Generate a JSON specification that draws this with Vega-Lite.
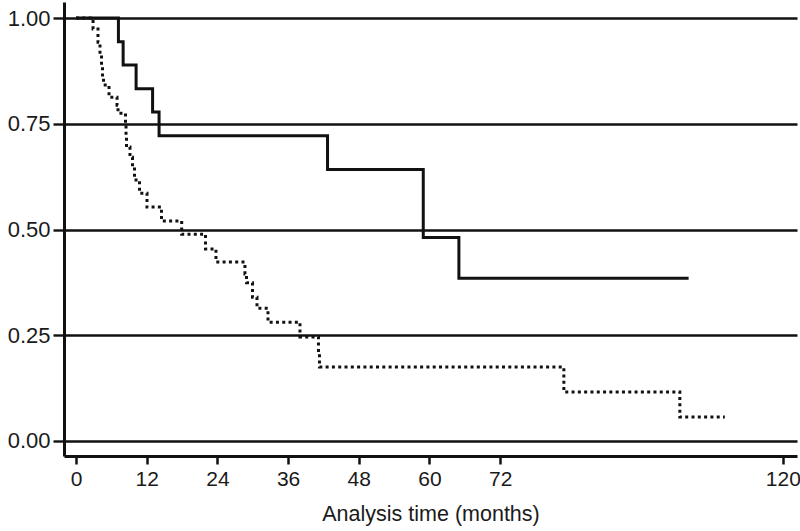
{
  "$schema": "https://vega.github.io/schema/vega-lite/v6.json",
  "width": 733,
  "height": 454,
  "autosize": {"type": "none"},
  "padding": {"left": 64, "top": 2, "right": 3, "bottom": 75},
  "background": "white",
  "view": {"stroke": null},
  "config": {
    "font": "Liberation Sans",
    "axis": {"labelFont": "Liberation Sans", "titleFont": "Liberation Sans", "labelColor": "#1a1a1a", "titleColor": "#1a1a1a"}
  },
  "data": {
    "values": [
      {"group": "solid", "t": 0, "s": 1.0},
      {"group": "solid", "t": 7.2, "s": 0.944},
      {"group": "solid", "t": 8.0, "s": 0.889},
      {"group": "solid", "t": 10.2, "s": 0.833},
      {"group": "solid", "t": 13.0, "s": 0.778},
      {"group": "solid", "t": 14.1, "s": 0.722},
      {"group": "solid", "t": 42.7, "s": 0.642},
      {"group": "solid", "t": 58.95, "s": 0.481},
      {"group": "solid", "t": 65.0, "s": 0.385},
      {"group": "solid", "t": 104.0, "s": 0.385},
      {"group": "dotted", "t": 0, "s": 1.0},
      {"group": "dotted", "t": 2.89, "s": 0.974},
      {"group": "dotted", "t": 3.73, "s": 0.943},
      {"group": "dotted", "t": 4.07, "s": 0.915},
      {"group": "dotted", "t": 4.33, "s": 0.887},
      {"group": "dotted", "t": 4.5, "s": 0.858},
      {"group": "dotted", "t": 4.67, "s": 0.842},
      {"group": "dotted", "t": 5.6, "s": 0.813},
      {"group": "dotted", "t": 6.96, "s": 0.794},
      {"group": "dotted", "t": 7.13, "s": 0.775},
      {"group": "dotted", "t": 8.4, "s": 0.752},
      {"group": "dotted", "t": 8.49, "s": 0.723},
      {"group": "dotted", "t": 8.57, "s": 0.695},
      {"group": "dotted", "t": 9.16, "s": 0.671},
      {"group": "dotted", "t": 9.59, "s": 0.648},
      {"group": "dotted", "t": 9.93, "s": 0.617},
      {"group": "dotted", "t": 10.78, "s": 0.586},
      {"group": "dotted", "t": 12.05, "s": 0.553},
      {"group": "dotted", "t": 14.51, "s": 0.52},
      {"group": "dotted", "t": 17.94, "s": 0.489},
      {"group": "dotted", "t": 21.98, "s": 0.454},
      {"group": "dotted", "t": 23.76, "s": 0.423},
      {"group": "dotted", "t": 28.68, "s": 0.395},
      {"group": "dotted", "t": 28.94, "s": 0.374},
      {"group": "dotted", "t": 29.96, "s": 0.34},
      {"group": "dotted", "t": 30.72, "s": 0.314},
      {"group": "dotted", "t": 32.59, "s": 0.281},
      {"group": "dotted", "t": 38.02, "s": 0.246},
      {"group": "dotted", "t": 41.16, "s": 0.21},
      {"group": "dotted", "t": 41.33, "s": 0.175},
      {"group": "dotted", "t": 82.82, "s": 0.116},
      {"group": "dotted", "t": 102.51, "s": 0.057},
      {"group": "dotted", "t": 110.15, "s": 0.057}
    ]
  },
  "encoding": {
    "x": {
      "field": "t", "type": "quantitative",
      "scale": {"domain": [-2.04, 122.4], "nice": false, "zero": false},
      "axis": {
        "values": [0, 12, 24, 36, 48, 60, 72, 120],
        "title": "Analysis time (months)",
        "titleFontSize": 21.5, "titleFontWeight": "normal", "titlePadding": 14,
        "labelFontSize": 21, "labelPadding": 4,
        "labelOverlap": false, "labelFlush": false, "labelBound": false,
        "grid": false,
        "domainColor": "#111", "domainWidth": 3,
        "tickColor": "#111", "tickWidth": 2.5, "tickSize": 8
      }
    },
    "y": {
      "field": "s", "type": "quantitative",
      "scale": {"domain": [-0.0355, 1.038], "nice": false, "zero": false},
      "axis": {
        "values": [0, 0.25, 0.5, 0.75, 1],
        "format": ".2f",
        "title": null,
        "labelFontSize": 22, "labelPadding": 3,
        "labelOverlap": false, "labelFlush": false, "labelBound": false,
        "grid": true, "gridColor": "#111", "gridWidth": 2.4, "gridOpacity": 1,
        "domainColor": "#111", "domainWidth": 3,
        "tickColor": "#111", "tickWidth": 2.4, "tickSize": 11
      }
    }
  },
  "layer": [
    {
      "transform": [{"filter": "datum.group === 'dotted'"}],
      "mark": {"type": "line", "interpolate": "step-after", "color": "#111", "strokeWidth": 3, "strokeDash": [3, 3.3], "strokeCap": "butt"}
    },
    {
      "transform": [{"filter": "datum.group === 'solid'"}],
      "mark": {"type": "line", "interpolate": "step-after", "color": "#111", "strokeWidth": 3}
    }
  ]
}
